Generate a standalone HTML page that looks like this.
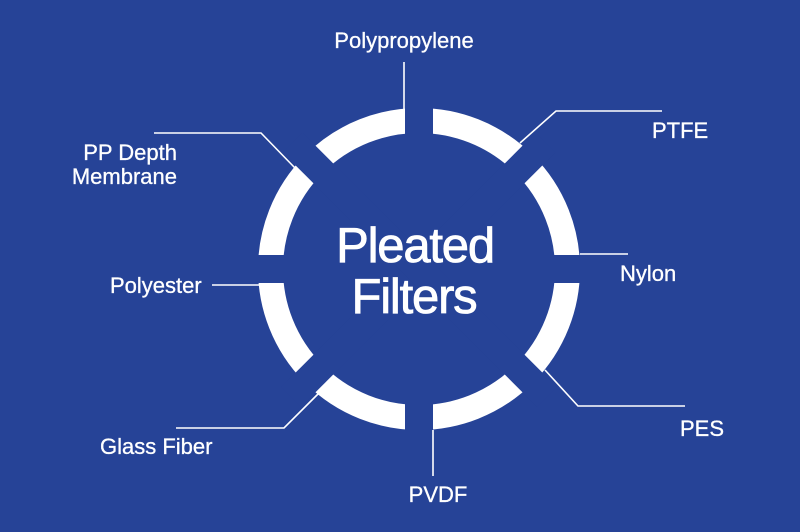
<!DOCTYPE html>
<html><head><meta charset="utf-8"><style>
html,body{margin:0;padding:0;background:#264397;}
svg{display:block}
text{font-family:"Liberation Sans",Arial,sans-serif;fill:#fff}
</style></head><body>
<svg width="800" height="532" viewBox="0 0 800 532" xmlns="http://www.w3.org/2000/svg">
<rect width="800" height="532" fill="#264397"/>
<circle cx="419" cy="269" r="148.5" fill="none" stroke="#fff" stroke-width="25"/>
<g fill="#264397">
<rect x="405" y="90" width="28" height="180"/>
<rect x="405" y="269" width="28" height="180"/>
<rect x="240" y="255" width="180" height="28"/>
<rect x="419" y="255" width="180" height="28"/>
<g transform="rotate(45 419 269)">
<rect x="405" y="90" width="28" height="360"/>
<rect x="240" y="255" width="360" height="28"/>
</g>
</g>
<g stroke="#fff" stroke-width="1.6" fill="none">
<polyline points="404,62 404,110"/>
<polyline points="520,143 556,111 662,111"/>
<polyline points="580,254 628,254"/>
<polyline points="545,370 578,406 685,406"/>
<polyline points="433,430 433,476"/>
<polyline points="318,394 284,428 176,428"/>
<polyline points="212,285 260,285"/>
<polyline points="154,133 261,133 295,168"/>
</g>
<g stroke="#fff" stroke-width="0.8">
<text x="415" y="262" font-size="49" text-anchor="middle" letter-spacing="-1.2">Pleated</text>
<text x="414" y="313" font-size="49" text-anchor="middle" letter-spacing="-1.2">Filters</text>
</g>
<g font-size="22" stroke="#fff" stroke-width="0.3">
<text x="404" y="48" text-anchor="middle">Polypropylene</text>
<text x="652" y="138">PTFE</text>
<text x="620" y="281">Nylon</text>
<text x="680" y="436">PES</text>
<text x="438" y="502" text-anchor="middle">PVDF</text>
<text x="100" y="454">Glass Fiber</text>
<text x="110" y="293">Polyester</text>
<text x="177" y="160" text-anchor="end">PP Depth</text>
<text x="177" y="184" text-anchor="end">Membrane</text>
</g>
</svg>
</body></html>
